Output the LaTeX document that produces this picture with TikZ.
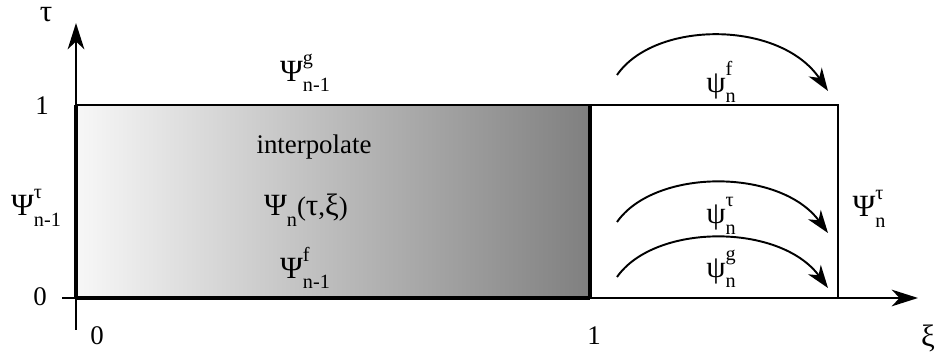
\documentclass[tikz,border=0pt]{standalone}
\usepackage{graphicx}
\usepackage{fontspec}
\setmainfont{Liberation Serif}
\usetikzlibrary{arrows.meta}
\newcommand{\smallf}{\fontsize{11.5}{12}\selectfont}
\newcommand{\gk}[1]{\scalebox{1.15}{#1}}
\newcommand{\psl}[3]{\gk{#1}\rlap{\raisebox{0.62em}{\smallf #2}}\raisebox{-0.4em}{\smallf #3}}
\begin{document}
\begin{tikzpicture}[x=0.02cm,y=-0.02cm,
  lbl/.style={inner sep=0pt, font=\fontsize{15.3}{18}\selectfont},
  axisline/.style={line width=1.1pt},
  thin edge/.style={line width=1.1pt},
  thick edge/.style={line width=1.9pt},
  tipped/.style={-{Stealth[length=15pt,width=9.5pt,inset=4.5pt]}},
  arcline/.style={line width=1.1pt,-{Stealth[length=13pt,width=9pt,inset=4pt]}}]
\useasboundingbox (0,0) rectangle (940,354);
% coordinates
\coordinate (BL) at (76,298);
\coordinate (TL) at (76,105);
\coordinate (TM) at (590,105);
\coordinate (BM) at (590,298);
\coordinate (TR) at (838,105);
\coordinate (BR) at (838,298);
\coordinate (ys) at (76,330);
\coordinate (ye) at (76,23);
\coordinate (xs) at (62,298);
\coordinate (xe) at (918,298);
\coordinate (a1s) at (617,75);
\coordinate (a1e) at (828,91);
\coordinate (a2s) at (617,222);
\coordinate (a2e) at (828,233);
\coordinate (a3s) at (617,277);
\coordinate (a3e) at (828,288);
% shading
\shade[left color=black!3, right color=black!50] (TL) rectangle (BM);
% axes
\draw[axisline,tipped] (ys) -- (ye);
\draw[axisline,tipped] (xs) -- (xe);
% box edges
\draw[thin edge] (TL) -- (TR) -- (BR);
\draw[thick edge] (TM) -- (BM);
\draw[thick edge] (TL) -- (BL);
\draw[thick edge] (BL) -- (BM);
% arcs
\draw[arcline] (a1s) .. controls (655,20) and (780,20) .. (a1e);
\draw[arcline] (a2s) .. controls (655,168) and (780,168) .. (a2e);
\draw[arcline] (a3s) .. controls (655,223) and (780,223) .. (a3e);
% labels
\node[lbl] (tau) at (46,15) {\gk{τ}};
\node[lbl] (one) at (42,106) {1};
\node[lbl] (zero) at (40,297) {0};
\node[lbl] (xzero) at (97,336) {0};
\node[lbl] (xone) at (594,336) {1};
\node[lbl] (xi) at (928,338) {\gk{ξ}};
\node[lbl] (pgm) at (305,73) {\psl{Ψ}{g}{n-1}};
\node[lbl] (interp) at (314,147) {interpolate};
\node[lbl] (pn) at (306,210) {\gk{Ψ}\raisebox{-0.4em}{\smallf n}(\gk{τ},\gk{ξ})};
\node[lbl] (pfm) at (305,268) {\psl{Ψ}{f}{n-1}};
\node[lbl] (ptm) at (36,208) {\psl{Ψ}{τ}{n-1}};
\node[lbl] (pf) at (721,82) {\psl{ψ}{f}{n}};
\node[lbl] (pt) at (721,216) {\psl{ψ}{τ}{n}};
\node[lbl] (pg) at (721,269) {\psl{ψ}{g}{n}};
\node[lbl] (ptn) at (869,209) {\psl{Ψ}{τ}{n}};
\end{tikzpicture}
\end{document}
